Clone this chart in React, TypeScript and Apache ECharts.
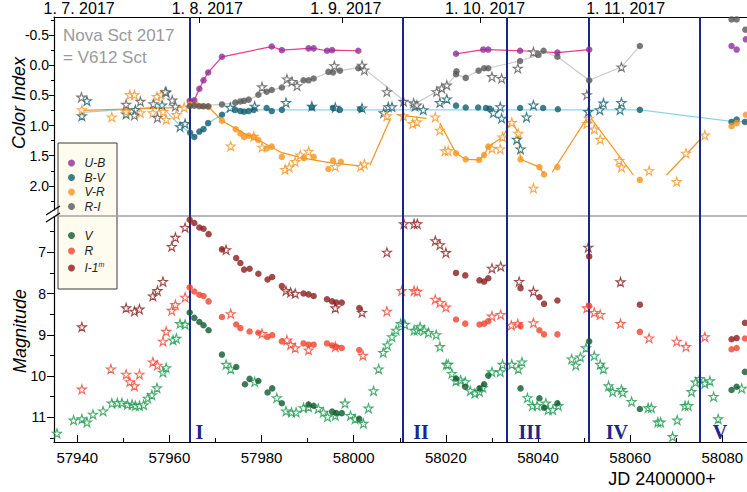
import React, { useEffect, useRef } from 'react';
import * as echarts from 'echarts';

// ---------- axis values ----------
const X_MIN = 57934.95;
const X_MAX = 58085.35;
const xMajorTicks = [57940, 57960, 57980, 58000, 58020, 58040, 58060, 58080];
const xMinorTicks = [57950, 57970, 57990, 58010, 58030, 58050, 58070];
const topDateLabels = ['1. 7. 2017', '1. 8. 2017', '1. 9. 2017', '1. 10. 2017', '1. 11. 2017'];
const topDateTicks = [57966.5, 57997.5, 58027.5, 58058.5];
const topLabelPos = [57940.4, 57968.2, 57998.3, 58028.5, 58059.0];
const ciTicks = [-0.5, 0, 0.5, 1, 1.5, 2];
const ciMinor = [-0.75, -0.25, 0.25, 0.75, 1.25, 1.75, 2.25];
const magTicks = [7, 8, 9, 10, 11];
const magMinor = [6.5, 7.5, 8.5, 9.5, 10.5, 11.5];
const phaseJD = [57964.5, 58010.6, 58033.2, 58051.1, 58075.1];
const phaseNames = ['I', 'II', 'III', 'IV', 'V'];
const phaseLabelJD = [57966.5, 58014.6, 58038.3, 58057.1, 58079.5];
const phaseLabelMag = 11.35;

// ---------- colour indices ----------
const ubDotsA = [[57964.4,0.59],[57965.4,0.58],[57966.5,0.39],[57967.4,0.25],[57968.4,0.12],[57971.4,-0.14],[57982.2,-0.31],[57984.4,-0.25],[57990.2,-0.28],[57991.3,-0.28],[57994.2,-0.24],[57995.3,-0.25],[58001,-0.24]];
const ubDotsB = [[58022.2,-0.19],[58028.1,-0.26],[58029.2,-0.26],[58036.1,-0.24],[58044.2,-0.21],[58051.1,-0.26]];
const ubDotsC = [[58082,-0.32],[58083.1,-0.26],[58085.1,-0.43]];

const bvDots = [[57964.5,1.12],[57965.4,1.19],[57966.5,1.10],[57967.4,1.06],[57968.4,0.96],[57971.4,0.82],[57974.3,0.74],[57975.4,0.76],[57976.2,0.77],[57977.2,0.76],[57978.3,0.74],[57981.1,0.71],[57982.2,0.76],[57984.4,0.74],[57990.9,0.70],[57995.5,0.71],[57997,0.74],[58001.4,0.73],[58022.2,0.67],[58024.3,0.70],[58027,0.70],[58028.7,0.71],[58029.5,0.72],[58036.1,0.71],[58041.1,0.71],[58044.3,0.73],[58062.1,0.74],[58082,0.94],[58083.1,0.90],[58084.9,0.94]];
const bvStars = [[57941,0.84],[57942.1,0.59],[57950.6,0.81],[57952.6,0.74],[57958.4,0.66],[57959.3,0.45],[57962.3,1.02],[57963.4,0.97],[57973.2,0.70],[57978.5,0.68],[57985.3,0.62],[57990.9,0.68],[57996,0.70],[58001.8,0.71],[58006.5,0.79],[58007.5,0.69],[58008.3,0.69],[58013.3,0.68],[58015.1,0.74],[58018.7,0.62],[58020.2,0.56],[58030.3,0.79],[58031.8,0.69],[58032.1,0.88],[58035.4,1.23],[58036.2,1.39],[58037.5,0.86],[58039,0.66],[58050.9,0.77],[58053.4,0.74],[58054.2,0.63],[58057.8,0.74],[58058.1,0.62]];
const bvTrend = [[57941,0.78],[57958.4,0.69],[57962.3,1.0],[57964.5,1.12],[57965.4,1.19],[57967.4,1.06],[57968.4,0.96],[57971.4,0.82],[57973.3,0.73],[57980,0.74],[58062.1,0.74],[58082,0.93],[58085.3,0.94]];

const vrDots = [[57964.5,0.65],[57966,0.66],[57967.3,0.68],[57968.5,0.69],[57971.4,0.92],[57974.4,1.06],[57975.4,1.13],[57976.2,1.19],[57977.2,1.17],[57978.3,1.19],[57979.3,1.24],[57981.1,1.38],[57982.2,1.35],[57984.4,1.52],[57989.2,1.54],[57991.3,1.52],[57994.5,1.72],[57995.5,1.58],[57997.2,1.60],[58022.2,1.46],[58024.3,1.56],[58027.2,1.57],[58028.3,1.49],[58029.2,1.35],[58036.2,1.56],[58040.3,1.69],[58041.3,1.81],[58044.2,1.69],[58062.1,1.90],[58082,1.01],[58083.1,0.96],[58085.1,0.82]];
const vrStars = [[57941,0.74],[57947.5,0.86],[57950.6,0.77],[57951.4,0.49],[57952.4,0.49],[57953.7,0.79],[57956.4,0.79],[57957.3,0.52],[57958.2,0.49],[57958.6,0.77],[57959.3,0.90],[57961.5,0.82],[57963.2,0.70],[57973.3,1.34],[57978.3,1.18],[57980.1,1.36],[57985.1,1.73],[57986,1.69],[57987.3,1.60],[57988.4,1.49],[57990.2,1.43],[57996,1.68],[58001.5,1.68],[58002.3,1.64],[58007.2,0.84],[58010.8,0.84],[58012.8,0.97],[58013.7,0.94],[58017.7,0.86],[58018.7,1.08],[58019.8,1.42],[58020.5,1.42],[58030,1.38],[58031.8,1.39],[58032.3,1.19],[58034.3,0.95],[58035.7,1.13],[58039,2.04],[58050.6,0.97],[58051,0.88],[58052.2,1.06],[58053.5,1.23],[58057.6,1.58],[58058.1,1.69],[58064.1,1.75],[58070.1,1.93],[58072.1,1.46],[58076.2,1.16]];
const vrTrendA = [[57941,0.75],[57963.2,0.70],[57964.5,0.66],[57968.5,0.69],[57971.4,0.92],[57976.2,1.13],[57979.3,1.24],[57984.4,1.45],[57989,1.54],[57995,1.62],[58001.5,1.67]];
const vrTrendB = [[58003.5,1.66],[58008,0.88]];
const vrTrendC = [[58009.3,0.82],[58015.8,0.88]];
const vrTrendD = [[58018.7,0.96],[58022.2,1.46],[58024.3,1.56],[58027.2,1.57],[58028.3,1.49],[58029.2,1.35],[58032.3,1.19],[58034.3,0.92],[58035.7,1.13],[58036.2,1.56],[58040.3,1.69],[58041.3,1.81]];
const vrTrendE = [[58043.1,1.77],[58050.6,0.88]];
const vrTrendF = [[58051.5,0.88],[58060.7,1.82]];
const vrTrendG = [[58067.9,1.82],[58075.1,1.24]];

const riDots = [[57964.4,0.68],[57965.4,0.67],[57966.5,0.68],[57967.4,0.68],[57968.4,0.68],[57971.4,0.65],[57974.3,0.62],[57975.4,0.60],[57976.2,0.59],[57977.2,0.57],[57979.3,0.49],[57981.1,0.44],[57982.2,0.41],[57984.4,0.37],[57989.1,0.25],[57990.2,0.25],[57991.3,0.22],[57994.5,0.11],[57995.5,0.12],[57997,0.09],[58001,0.05],[58022.2,0.15],[58022.3,0.10],[58024.3,0.21],[58027.1,0.09],[58028.3,0.05],[58029.2,0.05],[58036.1,-0.07],[58040.1,-0.17],[58041.2,-0.24],[58044.2,-0.14],[58051.1,0.25],[58062.1,-0.32],[58082,-0.76],[58083.1,-0.76],[58085,-0.59]];
const riStars = [[57940.9,0.53],[57950.6,0.65],[57952.4,0.83],[57953.7,0.60],[57956.5,0.64],[57957.4,0.87],[57959.1,0.44],[57960.6,0.58],[57961.3,0.68],[57980.1,0.36],[57985.5,0.23],[57986.6,0.27],[57987.7,0.34],[57995.8,0.01],[58001.8,0.0],[58002.3,0.08],[58007.2,0.44],[58010.8,0.60],[58013,0.63],[58013.7,0.66],[58018,0.44],[58019.1,0.38],[58020.2,0.33],[58030,0.19],[58032.1,0.22],[58035.6,0.05],[58039,-0.22],[58050.6,0.49],[58058.1,0.03]];
const riTrend = [[57964.4,0.68],[57971.4,0.65],[57974.3,0.62],[57977.5,0.57],[57979.3,0.49],[57981.1,0.43],[57984.4,0.37],[57989.1,0.25],[57991.3,0.22],[57994.5,0.12],[57997,0.09],[58001,0.04],[58002.3,0.06],[58010.8,0.58],[58013.7,0.62],[58018,0.44],[58020.2,0.33],[58022.2,0.16],[58024.3,0.2],[58027.1,0.09],[58029,0.05],[58036.1,-0.07],[58040.1,-0.17],[58041.2,-0.22],[58044.2,-0.14],[58051.1,0.25],[58058.1,0.03],[58062.1,-0.32]];

// ---------- magnitudes ----------
const iDots = [[57964.4,6.21],[57965.4,6.29],[57966.5,6.40],[57967.4,6.43],[57968.5,6.56],[57971.4,6.93],[57974.5,7.14],[57975.4,7.26],[57976.2,7.42],[57977.4,7.40],[57979.3,7.52],[57981.3,7.66],[57982.3,7.60],[57984.4,7.82],[57989.1,8.00],[57990.2,8.02],[57991.3,8.06],[57994.2,8.14],[57995.3,8.19],[57996.2,8.22],[57997.4,8.22],[58001.2,8.35],[58022.2,7.50],[58024.2,7.56],[58027.3,7.68],[58028.3,7.71],[58029.2,7.63],[58036.2,7.87],[58040.3,8.09],[58041.3,8.25],[58044.2,8.17],[58051.1,7.10],[58062.1,8.27],[58082,9.11],[58083.1,9.08],[58084.9,8.71]];
const iStars = [[57941,8.81],[57950.6,8.35],[57952.4,8.43],[57953.5,8.38],[57956.4,8.06],[57957.4,7.93],[57958.6,7.71],[57960.5,6.86],[57961.3,6.64],[57963.4,6.40],[57972.3,6.94],[57985.3,7.93],[57986.3,7.97],[57987.3,8.00],[57996,8.35],[58001.8,8.46],[58007.2,7.00],[58010.9,6.31],[58013.1,6.31],[58013.8,6.31],[58017.7,6.72],[58018.7,6.82],[58020,7.01],[58030,7.39],[58031.9,7.34],[58035.9,7.71],[58039,7.95],[58050.9,6.88],[58057.9,7.72]];
const rDots = [[57964.4,7.85],[57965.4,7.95],[57966.5,8.03],[57967.4,8.06],[57968.5,8.19],[57971.4,8.57],[57974.5,8.75],[57975.4,8.84],[57977.4,8.92],[57979.3,8.95],[57981.3,9.05],[57982.3,9.01],[57984.4,9.16],[57989.1,9.21],[57990.2,9.24],[57991.3,9.24],[57994.2,9.21],[57995.3,9.26],[57996.2,9.29],[57997.4,9.32],[58001.2,9.37],[58022.2,8.63],[58024.2,8.73],[58027.3,8.75],[58028.3,8.73],[58029.2,8.67],[58036.2,8.79],[58040.3,8.89],[58041.3,8.99],[58044.2,8.99],[58051.1,8.30],[58062.1,8.93],[58082,9.35],[58083.1,9.32],[58084.9,9.09]];
const rStars = [[57941,10.32],[57947.3,9.83],[57950.6,9.96],[57951.4,10.14],[57952.4,10.24],[57953.5,9.96],[57956.4,9.66],[57957.4,9.74],[57958.6,9.16],[57959.3,8.92],[57960.5,8.41],[57961.3,8.27],[57963.4,8.09],[57973.3,8.49],[57980.1,8.97],[57985.5,9.13],[57986.3,9.24],[57987.3,9.32],[57990.2,9.37],[57996,9.29],[58002,9.50],[58007.2,8.43],[58010.4,7.93],[58013.1,7.93],[58013.8,7.95],[58017.7,8.14],[58018.7,8.22],[58020,8.33],[58030,8.55],[58031.9,8.51],[58034.2,8.77],[58035.6,8.73],[58039,8.71],[58050.6,8.35],[58052.2,8.46],[58053.5,8.51],[58057.9,8.73],[58064.1,9.08],[58070.1,9.16],[58072.1,9.29],[58076.2,9.05]];
const vDots = [[57964.4,8.46],[57965.4,8.59],[57966.5,8.69],[57967.4,8.77],[57968.5,8.89],[57971.4,9.48],[57974.5,9.78],[57976.4,10.20],[57977.4,10.07],[57979.3,10.12],[57981.3,10.40],[57982.3,10.30],[57984.4,10.66],[57990.2,10.69],[57991.3,10.72],[57995.3,10.86],[57996.2,10.90],[57997.4,10.90],[58001.2,11.04],[58022.2,10.06],[58024.2,10.26],[58027.3,10.30],[58028.3,10.20],[58029.2,9.99],[58036.2,10.30],[58040.3,10.54],[58041.3,10.77],[58044.2,10.66],[58051.1,9.16],[58062.1,10.80],[58082,10.34],[58083.1,10.26],[58084.9,9.90]];
const vStars = [[57935.6,11.39],[57939.2,11.07],[57941,11.04],[57942.1,11.12],[57943.4,10.93],[57945.6,10.85],[57947.5,10.66],[57948.7,10.65],[57949.7,10.65],[57950.9,10.69],[57951.9,10.69],[57952.6,10.72],[57953.5,10.72],[57954.4,10.70],[57955.3,10.54],[57956.2,10.46],[57957.3,10.29],[57958.6,9.91],[57959.3,9.80],[57960.8,9.13],[57961.5,9.09],[57962.3,8.73],[57963.4,8.75],[57972.3,9.72],[57973.3,9.83],[57978.5,10.14],[57983.3,10.53],[57985.3,10.85],[57986.5,10.88],[57987.5,10.88],[57989.1,10.77],[57990.2,10.75],[57992.3,10.79],[57993.4,10.88],[57994.3,10.99],[57996,10.96],[57998.1,10.66],[57999.3,10.96],[58000.3,11.04],[58002.1,11.15],[58003.2,10.78],[58004.3,10.36],[58005.4,9.83],[58006.4,9.43],[58007.3,9.25],[58008.3,9.05],[58009.2,8.89],[58010.2,8.73],[58011.1,8.75],[58013.1,8.89],[58013.8,8.89],[58014.4,8.81],[58015.3,8.89],[58016.2,8.95],[58017.9,9.00],[58018.7,9.29],[58020.1,9.72],[58020.5,9.72],[58021.3,9.94],[58022.2,10.12],[58023.2,10.10],[58024.2,10.14],[58025.3,10.36],[58026.3,10.42],[58027.3,10.38],[58028,10.28],[58030,9.90],[58031.8,9.90],[58032.3,9.72],[58034.3,9.72],[58035.7,9.83],[58036.5,9.66],[58037.7,10.53],[58038.8,10.72],[58039.8,10.72],[58041.7,10.66],[58042.2,10.82],[58043.2,10.82],[58044.4,10.72],[58047.3,9.59],[58048.2,9.74],[58049.2,9.54],[58050.4,9.32],[58052.2,9.51],[58053.5,9.72],[58054.2,9.83],[58055.3,10.24],[58056.2,10.38],[58058.1,10.33],[58058.4,10.40],[58060.3,10.62],[58063.9,10.77],[58064.6,10.77],[58066,11.12],[58066.6,11.12],[58069.2,11.47],[58070.2,11.07],[58071.9,10.72],[58072.6,10.72],[58073.3,10.38],[58074.2,10.15],[58075.1,10.06],[58076.2,10.18],[58077.3,10.12],[58078.1,10.50],[58079.1,11.04],[58084.2,10.30]];

const FONT = "'Liberation Sans', Arial, Helvetica, sans-serif";
const NAVY = '#1a2789';
const STAR_PATH = 'path://M0,-100 L22.45,-30.9 L95.1,-30.9 L36.3,11.8 L58.8,80.9 L0,38.2 L-58.8,80.9 L-36.3,11.8 L-95.1,-30.9 L-22.45,-30.9 Z';

const C = {
  ub: '#8e2c9a', ubLine: '#ee3b8c',
  bv: '#0f5d6d', bvLine: '#8fd3ea',
  vr: '#f7941d', vrLine: '#f7941d',
  ri: '#585858', riLine: '#c9c9c9',
  v: '#0b5a2c', vStar: '#17994a',
  r: '#f2412d', i: '#8b1b1b',
};

function dots(name: string, data: number[][], color: string, xi: number, yi: number, extra: any = {}) {
  return { type: 'scatter', name, data, xAxisIndex: xi, yAxisIndex: yi, symbol: 'circle', symbolSize: 6.5, itemStyle: { color }, z: 5, silent: true, ...extra };
}
function stars(name: string, data: number[][], color: string, xi: number, yi: number) {
  return { type: 'scatter', name, data, xAxisIndex: xi, yAxisIndex: yi, symbol: STAR_PATH, symbolSize: 9, itemStyle: { color: '#ffffff', borderColor: color, borderWidth: 1.1 }, z: 4, silent: true };
}
function trend(name: string, data: number[][], color: string) {
  return { type: 'line', name, data, xAxisIndex: 0, yAxisIndex: 0, showSymbol: false, symbol: 'none', lineStyle: { color, width: 1.2 }, z: 3, silent: true };
}

const phaseMarks = () => ({
  silent: true,
  symbol: ['none', 'none'],
  label: { show: false },
  lineStyle: { color: NAVY, width: 2, type: 'solid' },
  data: phaseJD.map((v) => ({ xAxis: v })),
});

function buildOption(): any {
  const axisBase = { type: 'value', min: X_MIN, max: X_MAX, splitLine: { show: false } };
  const yBase = { type: 'value', position: 'left', inverse: true, splitLine: { show: false } };
  return {
    animation: false,
    backgroundColor: '#ffffff',
    grid: [
      { left: 54, right: 0, top: 17, height: 199, outerBoundsMode: 'none', containLabel: false },
      { left: 54, right: 0, top: 216, height: 226, outerBoundsMode: 'none', containLabel: false },
    ],
    xAxis: [
      {
        ...axisBase, gridIndex: 0, position: 'top',
        axisLine: { show: true, onZero: false, lineStyle: { color: '#000', width: 1.2 } },
        axisTick: { show: true, inside: true, length: 6, customValues: topDateTicks, lineStyle: { color: '#000' } },
        axisLabel: {
          show: true, customValues: topLabelPos, margin: 1, fontSize: 16, lineHeight: 16, color: '#000', fontFamily: FONT,
          formatter: (v: number) => {
            let best = 0;
            topLabelPos.forEach((p, i) => { if (Math.abs(p - v) < Math.abs(topLabelPos[best] - v)) best = i; });
            return topDateLabels[best];
          },
        },
      },
      {
        ...axisBase, gridIndex: 0, position: 'bottom', z: 3,
        axisLine: { show: true, onZero: false, lineStyle: { color: '#a2a2a2', width: 1.5 } },
        axisTick: { show: false }, axisLabel: { show: false },
      },
      {
        ...axisBase, gridIndex: 1, position: 'bottom',
        axisLine: { show: true, onZero: false, lineStyle: { color: '#000', width: 1.2 } },
        axisTick: { show: true, inside: true, length: 7, customValues: xMajorTicks, lineStyle: { color: '#000' } },
        axisLabel: { show: true, customValues: xMajorTicks, margin: 8, fontSize: 15, color: '#000', fontFamily: FONT, formatter: (v: number) => String(v) },
        name: 'JD 2400000+', nameLocation: 'middle', nameGap: 28,
        nameTextStyle: { fontSize: 18, color: '#000', fontFamily: FONT, padding: [0, 0, 0, 523] },
      },
      {
        ...axisBase, gridIndex: 1, position: 'bottom',
        axisLine: { show: false, onZero: false },
        axisTick: { show: true, inside: true, length: 4, customValues: xMinorTicks, lineStyle: { color: '#000' } },
        axisLabel: { show: false },
      },
    ],
    yAxis: [
      {
        ...yBase, gridIndex: 0, min: -0.8, max: 2.5,
        axisLine: { show: true, onZero: false, lineStyle: { color: '#000', width: 1.2 } },
        axisTick: { show: true, inside: false, length: 5, customValues: ciTicks, lineStyle: { color: '#000' } },
        axisLabel: { show: true, customValues: ciTicks, margin: 5, fontSize: 14, color: '#000', fontFamily: FONT, formatter: (v: number) => v.toFixed(1) },
      },
      {
        ...yBase, gridIndex: 0, min: -0.8, max: 2.5,
        axisLine: { show: false, onZero: false },
        axisTick: { show: true, inside: false, length: 3, customValues: ciMinor, lineStyle: { color: '#000' } },
        axisLabel: { show: false },
      },
      {
        ...yBase, gridIndex: 1, min: 6.12, max: 11.6,
        axisLine: { show: true, onZero: false, lineStyle: { color: '#000', width: 1.2 } },
        axisTick: { show: true, inside: false, length: 7, customValues: magTicks, lineStyle: { color: '#000' } },
        axisLabel: { show: true, customValues: magTicks, margin: 8, fontSize: 14, color: '#000', fontFamily: FONT, formatter: (v: number) => String(v) },
      },
      {
        ...yBase, gridIndex: 1, min: 6.12, max: 11.6,
        axisLine: { show: false, onZero: false },
        axisTick: { show: true, inside: false, length: 4, customValues: magMinor, lineStyle: { color: '#000' } },
        axisLabel: { show: false },
      },
    ],
    legend: [
      {
        data: ['U-B', 'B-V', 'V-R', 'R-I'], orient: 'vertical', left: 68, top: 157, padding: 0,
        itemWidth: 16, itemHeight: 7, itemGap: 2.5, icon: 'circle', z: 8, selectedMode: false,
        textStyle: { fontSize: 12, lineHeight: 12, fontStyle: 'italic', color: '#222', fontFamily: FONT },
      },
      {
        data: ['V', 'R', 'I-1m'], orient: 'vertical', left: 68, top: 229.5, padding: 0,
        itemWidth: 16, itemHeight: 7, itemGap: 3.5, icon: 'circle', z: 8, selectedMode: false,
        formatter: (n: string) => (n === 'I-1m' ? '{a|I-1}{s|m}' : n),
        textStyle: {
          fontSize: 12, lineHeight: 12, fontStyle: 'italic', color: '#222', fontFamily: FONT,
          rich: {
            a: { fontSize: 12, fontStyle: 'italic', color: '#222', fontFamily: FONT },
            s: { fontSize: 7, fontStyle: 'italic', color: '#222', fontFamily: FONT, padding: [0, 0, 8, 0] },
          },
        },
      },
    ],
    graphic: [
      { type: 'rect', z: 1, shape: { x: 58, y: 143, width: 59, height: 146 }, style: { fill: '#fdfcef', stroke: '#3a3a3a', lineWidth: 1 } },
      { type: 'text', z: 6, x: 63, y: 35, style: { text: 'Nova Sct 2017', fill: '#9a9a9a', font: `17px ${FONT}`, verticalAlign: 'middle' } },
      { type: 'text', z: 6, x: 63, y: 57, style: { text: '= V612 Sct', fill: '#9a9a9a', font: `17px ${FONT}`, verticalAlign: 'middle' } },
      { type: 'text', z: 6, x: 19, y: 103, rotation: Math.PI / 2, style: { text: 'Color Index', fill: '#000', font: `italic 18px ${FONT}`, align: 'center', verticalAlign: 'middle' } },
      { type: 'text', z: 6, x: 20, y: 331, rotation: Math.PI / 2, style: { text: 'Magnitude', fill: '#000', font: `italic 18px ${FONT}`, align: 'center', verticalAlign: 'middle' } },
      { type: 'rect', z: 10, shape: { x: 52, y: 210.5, width: 4, height: 6 }, style: { fill: '#ffffff' } },
      { type: 'line', z: 11, shape: { x1: 46, y1: 215, x2: 60, y2: 206 }, style: { stroke: '#000', lineWidth: 1.2 } },
      { type: 'line', z: 11, shape: { x1: 46, y1: 222, x2: 60, y2: 213 }, style: { stroke: '#000', lineWidth: 1.2 } },
    ],
    series: [
      trend('ubLineA', ubDotsA, C.ubLine),
      trend('ubLineB', ubDotsB, C.ubLine),
      trend('bvLine', bvTrend, C.bvLine),
      trend('vrLineA', vrTrendA, C.vrLine),
      trend('vrLineB', vrTrendB, C.vrLine),
      trend('vrLineC', vrTrendC, C.vrLine),
      trend('vrLineD', vrTrendD, C.vrLine),
      trend('vrLineE', vrTrendE, C.vrLine),
      trend('vrLineF', vrTrendF, C.vrLine),
      trend('vrLineG', vrTrendG, C.vrLine),
      trend('riLine', riTrend, C.riLine),
      stars('B-V stars', bvStars, C.bv, 0, 0),
      stars('V-R stars', vrStars, C.vr, 0, 0),
      stars('R-I stars', riStars, C.ri, 0, 0),
      dots('U-B', [...ubDotsA, ...ubDotsB, ...ubDotsC], C.ub, 0, 0, { markLine: phaseMarks() }),
      dots('B-V', bvDots, C.bv, 0, 0),
      dots('V-R', vrDots, C.vr, 0, 0),
      dots('R-I', riDots, C.ri, 0, 0),
      stars('V stars', vStars, C.vStar, 2, 2),
      stars('R stars', rStars, C.r, 2, 2),
      stars('I stars', iStars, C.i, 2, 2),
      dots('V', vDots, C.v, 2, 2, { markLine: phaseMarks() }),
      dots('R', rDots, C.r, 2, 2),
      dots('I-1m', iDots, C.i, 2, 2),
      {
        type: 'scatter', name: 'phases', xAxisIndex: 2, yAxisIndex: 2, symbol: 'circle', symbolSize: 1,
        itemStyle: { color: 'rgba(0,0,0,0)' }, z: 7, silent: true,
        data: phaseNames.map((n, i) => ({ name: n, value: [phaseLabelJD[i], phaseLabelMag] })),
        label: { show: true, position: 'inside', formatter: '{b}', color: NAVY, textBorderWidth: 0, opacity: 1, fontSize: 20, fontWeight: 'bold', fontFamily: "'Liberation Serif', 'Times New Roman', serif" },
      },
    ],
  };
}

export default function App() {
  const ref = useRef<HTMLDivElement>(null);
  useEffect(() => {
    if (!ref.current) return;
    const chart = echarts.init(ref.current, null, { renderer: 'svg' });
    chart.setOption(buildOption());
    return () => chart.dispose();
  }, []);
  return <div ref={ref} style={{ position: 'absolute', left: 0, top: 0, width: 747, height: 492, background: '#fff' }} />;
}
